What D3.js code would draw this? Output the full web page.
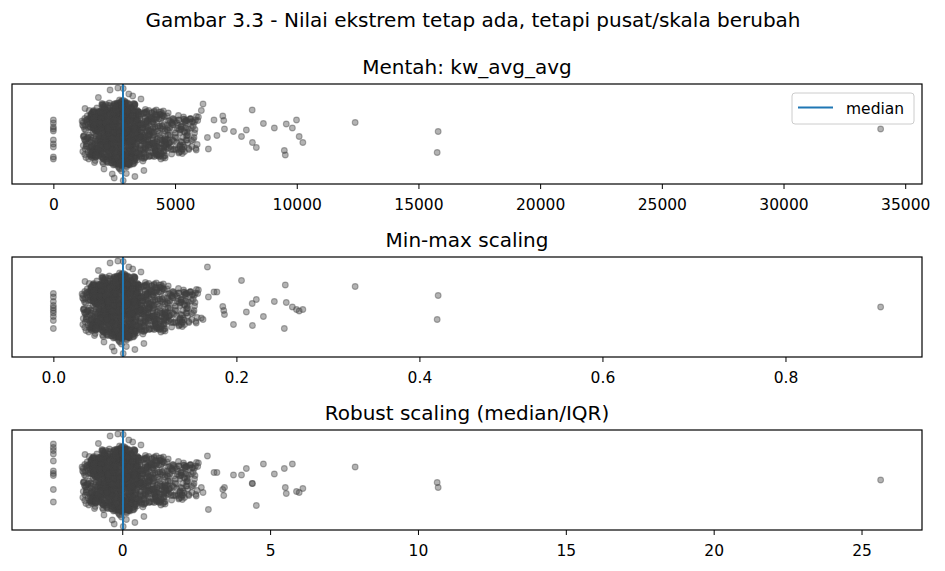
<!DOCTYPE html>
<html>
<head>
<meta charset="utf-8">
<script src="https://cdn.jsdelivr.net/npm/d3@7"></script>
<style>
  body { margin: 0; background: #fff; }
  text { font-family: "DejaVu Sans", sans-serif; fill: #000; }
</style>
</head>
<body>
<svg id="chart" width="945" height="571"></svg>
<script>
// kw_avg_avg, dense part of the distribution
const coreValues = [
  2410,3580,1320,2760,4020,2160,2990,5480,2530,3270,1760,2880,3420,2290,4310,2650,3110,1990,3760,4720,
  2870,1710,3290,2380,4780,2620,3940,2140,3060,1280,2740,3600,2260,5620,2510,3150,1960,4250,2950,3440,
  3120,2200,4060,1810,2570,5330,2790,3380,1350,2440,3710,2660,2010,4420,2920,2330,3550,1890,2840,4890,
  1230,3480,2700,2120,4180,2480,3010,1780,5750,2610,3220,2300,3840,2020,2800,4600,2400,3630,1920,2930,
  2560,4090,1470,3330,2220,2860,3680,2090,5140,2680,1850,3040,2360,4370,2770,3190,1640,3900,2450,2990,
  3390,2180,2720,4510,1540,2940,2350,3820,2600,1940,3160,5260,2430,2810,3500,2070,4140,2700,1720,3070,
  2640,1880,3250,2330,5880,2890,2140,3660,2460,4240,1410,3030,2580,3470,1990,2750,4860,2210,3930,2820,
  1960,3140,2520,4670,2780,2280,3720,1620,2900,3360,2050,5050,2690,2420,3980,1810,3080,2240,4380,2860,
  2730,4450,2170,3010,1380,3540,2630,2310,4110,2950,1830,3280,2490,5390,2080,3800,2770,2370,1690,3200,
  3300,2460,1590,2850,3960,2230,3170,2650,4800,1900,2960,2540,3620,2110,4290,2720,1480,3440,2390,5710,
  2300,3790,2910,1770,2620,4560,3060,2160,3330,2760,1250,3900,2440,2850,5170,2030,3500,2570,4030,3110,
  4190,2600,1930,3210,2830,2370,3650,1510,2990,2700,4920,2190,3390,2500,1870,3060,2790,4350,2260,3580,
  2520,1660,3420,2880,4700,2060,3050,2710,1840,3870,2330,5560,2940,2470,3240,1440,4120,2660,3130,2280,
  3000,2390,4260,1980,2770,3350,2150,5010,2580,3710,1700,2860,3180,2250,4490,2680,1330,3530,2910,2430,
  1800,2950,3610,2350,4080,2730,1580,3270,2470,5840,2900,2120,3440,2610,3970,2200,3080,1910,4630,2800,
  2690,3130,2040,4400,2810,1360,3490,2560,3000,2290,5290,1820,3760,2420,2980,4150,2130,3320,2630,1670,
  3560,2260,2870,1460,3120,4840,2500,2740,3880,2010,2920,3260,1740,4550,2380,3040,2590,5450,2190,2850,
  2140,3680,2590,3070,1600,2820,4270,2330,3410,5020,2700,1890,3190,2460,3950,2910,2080,4680,1300,2770,
  2860,1930,4010,2480,3300,2620,5600,1750,3060,2270,3730,2950,1520,4330,2560,3150,2170,2790,3560,4900,
  3430,2720,1840,2980,4620,2210,3240,2540,1290,3840,2810,2370,5200,2070,3010,2660,4180,1700,2930,3350,
  2350,3010,4380,2630,1560,2890,3540,2180,4960,2750,3180,1950,2480,3770,2840,5370,2310,1420,3290,2600,
  2980,2240,3150,1720,4200,2700,2430,3630,2000,2870,5680,2550,3380,1860,4470,2780,3040,2160,2650,3910,
  1640,3280,2580,4570,2900,2110,3480,2760,1390,3950,2470,3090,5100,2320,2820,4060,1980,3360,2690,2240,
  2780,4130,2200,3020,1880,3600,2450,5300,2640,3200,1500,2940,3850,2360,4720,2050,2860,3410,2540,1780,
  3180,2520,1910,4300,2760,3470,2290,2970,1620,4010,2680,5530,2150,3110,2420,3690,1760,2880,4530,2590,
  2430,3330,2850,1450,3920,2570,3120,2090,4760,2710,1830,3590,2960,2260,5150,2500,3030,4080,1990,2820,
  2690,1990,3520,2400,4410,2890,2130,3780,1530,3070,2610,4930,2340,3230,2800,1870,4240,2520,3000,5790,
  3560,2280,2740,4000,1690,3170,2550,2920,4690,2080,3400,1340,2810,3990,2380,5240,2660,3060,2190,3750,
  2170,3240,1790,2860,3640,2510,4460,2990,1960,3370,2720,5060,2420,3100,1480,4120,2600,2830,3830,2270,
  2920,1570,3450,2650,4230,2100,3010,2480,5500,1850,3280,2770,3920,2320,4810,2010,2900,3600,2560,1210,
  2040,2310,2580,2790,3010,3230,2150,2460,2880,3340,1560,1830,3480,3790,4100,4420,1610,1180,4750,5240,
  2120,2390,2670,2950,3180,2230,2520,2740,3090,3380,1650,1920,3530,3860,4260,4550,1890,1360,4920,5460,
  2070,2350,2620,2830,3060,3290,2190,2440,2960,3150,1720,1880,3450,3710,4030,4380,1530,1240,4680,5080,
  2260,2500,2710,2910,3120,3360,2010,2560,2820,3210,1590,1960,3560,3740,4180,4490,1750,1420,5010,5570,
  2180,2420,2650,2860,3040,3270,2090,2370,2990,3310,1770,1610,3420,3950,4150,4580,1980,1290,4810,5330,
  2280,2540,2760,2930,3160,3390,2060,2600,2800,3070,1540,1850,3640,3820,4220,4470,1670,1460,4720,5150,
  2030,2330,2690,2850,3130,3250,2210,2480,2940,3370,1690,1940,3510,3770,4080,4340,1820,1200,4990,5400,
  2140,2410,2640,2890,3100,3300,2250,2530,2780,3020,1620,1790,3440,3920,4290,4600,1560,1330,4860,5280,
  2200,2470,2730,2970,3190,3350,2100,2380,2840,3080,1740,1990,3600,3880,4120,4410,1930,1390,4640,5510,
  2050,2290,2570,2810,3050,3220,2160,2620,2900,3330,1570,1870,3490,3810,4200,4520,1700,1260,4780,5190,
  2240,2510,2700,2920,3140,3380,2020,2450,2870,3110,1660,1910,3550,3730,4050,4370,1580,1440,4950,5360,
  2110,2360,2610,2830,3070,3280,2270,2590,2950,3200,1700,1820,3470,3840,4160,4480,1850,1310,4700,5060,
  2300,2550,2750,2980,3170,3340,2080,2430,2790,3030,1580,1950,3580,3900,4230,4560,1640,1220,4830,5470,
  2170,2440,2680,2860,3090,3260,2230,2510,2920,3350,1730,1640,3520,3850,4110,4400,1960,1370,4910,5250,
  2060,2320,2600,2800,3020,3240,2190,2560,2880,3390,1600,1890,3460,3790,4270,4590,1720,1280,4740,5420,
  2210,2490,2720,2940,3150,3310,2040,2400,2850,3060,1680,1970,3570,3960,4140,4430,1540,1410,4870,5120,
  2130,2380,2630,2900,3110,3360,2250,2520,2770,3190,1550,1800,3430,3750,4190,4510,1880,1340,4690,5300,
  2290,2460,2740,2990,3200,3320,2090,2580,2820,3040,1710,1930,3610,3870,4240,4460,1690,1230,4960,5390,
  2080,2340,2660,2870,3080,3290,2220,2470,2960,3230,1630,1860,3500,3800,4090,4350,1790,1450,4800,5200,
  2190,2420,2590,2810,3130,3370,2000,2540,2910,3100,1760,1990,3540,3720,4210,4570,1600,1300,4730,5500,
  2020,2270,2530,2780,3000,3210,2120,2410,2690,3320,1530,1780,3410,3680,3990,4340,1590,1940,5160,5690,
  2100,2350,2600,2850,3080,3300,2240,2480,2920,3140,1610,1860,3480,3770,4070,4470,1750,1520,5290,5820,
  2170,2440,2700,2940,3160,3390,2050,2550,2800,3050,1680,1940,3560,3840,4140,4550,1880,1660,5420,5930,
  2230,2500,2760,2990,3220,3270,2140,2390,2870,3120,1560,1810,3620,3910,4240,4620,1570,1990,5210,5640,
  2060,2320,2570,2820,3030,3250,2200,2470,2740,3360,1640,1900,3450,3730,4020,4390,1830,1610,5350,5780,
  2150,2400,2650,2880,3110,3340,2010,2580,2830,3190,1720,1980,3530,3800,4110,4500,1690,1920,5480,5870,
  2280,2530,2790,3000,3230,3380,2090,2360,2960,3070,1520,1840,3590,3880,4190,4570,1540,1780,5130,5560,
  2090,2360,2620,2860,3060,3290,2260,2510,2770,3170,1600,1870,3400,3700,4000,4360,1960,1640,5250,5720,
  2190,2450,2710,2930,3150,3330,2030,2490,2840,3000,1700,1950,3660,3940,4250,4600,1720,1870,5380,5910,
  2250,2520,2770,2970,3200,3390,2130,2430,2900,3090,1580,1820,3500,3760,4060,4430,1610,1970,5520,5800,
  2040,2300,2550,2800,3040,3260,2180,2460,2720,3310,1660,1930,3440,3830,4130,4480,1800,1530,5190,5620,
  2120,2390,2640,2870,3100,3350,2270,2540,2810,3160,1740,1890,3570,3870,4220,4540,1930,1700,5310,5750,
  2210,2470,2680,2910,3140,3280,2070,2420,2990,3220,1540,1770,3630,3900,4150,4410,1580,1850,5440,5850,
  2160,2430,2690,2950,3170,3370,2240,2500,2760,3020,1620,1960,3470,3780,4100,4520,1760,1620,5230,5670,
  2080,2340,2580,2840,3090,3300,2110,2570,2880,3130,1690,1850,3520,3810,4180,4610,1670,1910,5360,5960,
  2330,3350,3100,2500,1850,3720,2420,3260,2080,3600
];

// vertical strip offsets of the dense part (-1 = bottom of box, 1 = top)
const coreJitter = [
  .05,-.31,.17,-.09,.42,-.22,.02,.27,-.55,.13,-.04,.33,-.17,.09,-.41,.21,-.13,.58,-.26,-.02,
  -.18,.07,.36,-.44,.12,-.03,.23,-.29,.49,-.11,.16,-.06,-.35,.30,.01,-.62,.19,-.15,.26,.08,
  .28,-.12,.04,-.37,.19,-.07,.51,.10,-.24,.45,-.02,-.16,.32,-.50,.08,.14,-.28,.03,-.46,.22,
  -.05,.39,-.20,.11,-.33,.25,-.54,.06,.15,-.10,.52,-.27,.02,.18,.48,-.43,.09,-.14,.34,-.01,
  .20,-.08,.47,-.30,.03,-.58,.13,-.19,.37,.07,-.11,.24,-.40,.16,.01,-.23,.44,-.04,.29,-.15,
  -.26,.14,.06,-.47,.31,.56,-.13,.22,-.02,.41,-.35,.10,-.07,-.61,.18,-.21,.04,.27,-.53,.12,
  .09,-.36,.25,-.01,.35,.50,-.17,.12,-.45,.33,-.06,.19,-.28,.44,-.12,.03,-.40,.15,-.22,.05,
  -.14,.27,-.04,.36,-.25,.11,-.49,.20,.48,-.09,.16,-.32,.01,.43,-.19,.08,-.53,.23,-.03,.30,
  .35,-.20,.10,-.52,.24,-.06,.50,.15,-.38,.02,.28,-.12,.19,-.35,.07,-.30,.56,-.16,.40,-.08,
  -.09,.18,-.42,-.48,.31,.04,-.24,.57,-.02,.13,.62,-.33,.21,-.15,.06,.38,-.41,.11,-.27,.25,
  .16,-.28,-.43,.07,-.13,.34,.03,-.46,.22,.62,-.05,.29,-.19,.10,-.36,.45,-.01,.20,-.37,.12,
  -.33,.06,.23,-.15,.52,.40,-.08,.14,-.64,-.26,.19,-.03,.30,-.41,.09,.52,-.18,.01,.27,-.11,
  .11,-.40,.02,.44,-.21,.35,-.12,-.57,.17,-.05,.46,-.29,.08,.25,-.44,.13,-.02,.32,-.17,.41,
  -.79,.21,-.10,.43,.09,-.30,.15,-.06,.35,-.18,.26,.60,-.39,.04,-.12,.33,.08,-.43,.18,-.24,
  .24,.65,-.07,.38,-.19,-.70,.12,-.34,.03,.28,-.13,.20,-.52,.07,.29,-.01,-.46,.16,-.26,.42,
  -.02,.31,-.48,.12,.66,-.11,.22,-.37,-.51,.05,-.16,.40,-.06,.19,.49,-.28,.34,.10,-.59,.14,
  .43,-.17,-.93,.26,.01,-.31,.08,.58,-.12,.35,.57,-.22,.16,-.44,.05,.20,-.07,.27,-.50,.13,
  .07,-.54,.19,-.09,.32,.53,-.25,.11,-.38,.02,-.68,.45,-.14,.23,-.03,.17,-.29,.09,.51,-.20,
  -.41,.13,-.27,.40,.06,-.15,.24,-.46,.39,-.08,.18,.02,-.34,.30,-.60,.11,-.21,.44,.04,-.12,
  .30,-.45,.09,.16,-.22,.47,-.05,.34,-.41,.14,.50,-.18,.03,.26,-.66,.07,-.30,.21,.60,-.10,
  -.23,.37,-.12,.04,.34,-.47,.19,-.03,.28,.40,-.40,.11,-.17,.44,.58,-.26,.08,-.36,.15,.01,
  .17,-.06,.29,-.35,.10,-.32,.47,.02,-.20,.91,-.13,.24,-.48,.06,-.29,.65,.13,-.09,.39,-.16,
  -.42,.08,.22,-.14,.43,-.31,.05,-.47,.36,-.01,.18,-.24,.11,.57,.64,-.19,.27,-.06,-.62,.14,
  .55,-.25,.12,-.49,.31,-.04,.20,-.39,.07,.53,-.15,-.60,.25,-.08,.42,-.30,.58,.01,-.52,.18,
  -.07,.46,-.32,.15,-.40,.27,-.11,.42,.03,-.21,.38,-.02,.12,-.60,.21,-.14,.33,.67,-.36,.09,
  .21,-.13,.45,-.50,.08,-.27,.40,.01,-.18,-.53,.30,-.05,.63,.14,-.38,.46,-.09,.24,-.22,-.40,
  -.58,.32,-.04,.19,-.43,.10,-.23,.49,.14,-.10,.61,-.31,.06,.28,-.74,.37,-.16,-.49,.02,.23,
  .12,-.22,-.55,.35,-.57,.04,.52,-.36,.18,-.07,.25,-.47,.41,.09,-.28,.15,-.65,.40,-.12,.31,
  -.30,.16,.52,-.59,.03,.57,-.19,.26,-.45,.11,.68,-.08,-.53,.36,-.02,.21,-.34,.53,.06,-.14,
  .19,-.44,.07,.92,-.27,.34,-.60,.13,-.03,.45,-.17,.40,.01,-.41,.24,-.09,.59,-.23,.30,-.35,
  .58,-.44,.21,-.60,.37,-.15,.49,-.29,.06,-.53,.40,-.22,.31,-.46,.12,-.35,.44,.26,-.18,.09,
  -.51,.33,-.08,.55,-.26,.44,-.61,.15,-.38,.24,-.31,.45,-.14,.27,-.42,.19,-.05,-.24,.30,-.12,
  .12,-.57,.47,-.19,.62,-.35,.28,-.48,.53,-.02,.21,-.40,.47,-.09,.33,-.27,-.45,.15,-.29,.22,
  -.33,.60,-.45,.09,-.56,.18,.41,-.12,-.62,.50,-.47,.14,-.30,.42,-.18,.37,.03,-.08,.25,-.31,
  .46,-.23,.57,-.41,.01,-.59,.35,.22,-.47,.14,.28,-.36,.09,-.44,.46,-.11,.24,.31,-.05,-.22,
  -.17,.52,-.37,.61,-.50,.29,-.06,-.55,.40,-.28,-.12,.38,-.48,.20,-.25,.41,-.37,-.27,.13,.28,
  .55,-.13,-.58,.34,-.30,.48,-.42,.03,.60,-.21,.44,-.06,.36,-.33,.10,-.44,.29,.18,-.30,.04,
  -.46,.26,.39,-.52,.16,-.04,.57,-.36,-.24,.45,-.38,.23,-.19,.47,-.41,.06,.34,-.15,.22,-.26,
  .31,-.62,.08,.50,-.43,.59,-.18,.27,-.54,.38,.16,-.46,.40,-.02,.30,-.28,-.16,.29,-.20,.11,
  -.59,.42,-.27,-.07,.53,-.40,.19,.62,-.32,-.49,-.24,.35,-.42,.13,-.36,.46,.08,-.03,.27,-.24,
  .24,-.48,.61,-.34,.11,.45,-.56,-.16,.36,-.61,.47,-.15,.22,-.39,.43,-.07,-.31,.20,-.14,.30,
  -.40,.15,-.53,.58,-.11,.32,-.25,.47,-.60,.05,-.44,.30,-.08,.45,-.21,.17,.38,-.30,.07,-.17,
  .62,-.31,.04,-.46,.43,-.57,.23,-.09,.51,-.37,.33,-.41,.18,-.27,.48,-.34,.12,.23,-.25,-.04,
  -.22,.56,-.41,.17,-.61,.09,.38,-.50,.27,.59,-.10,.42,-.45,.26,-.03,.39,-.36,-.20,.31,.14,
  .39,-.05,.50,-.62,.28,-.20,-.45,.54,-.14,.33,.25,-.29,.46,-.13,.37,-.48,.20,.10,-.28,.26,
  -.54,.45,-.16,.30,-.39,.61,-.02,-.29,.48,-.58,-.35,.11,-.40,.34,-.17,.44,-.06,-.09,.19,-.30,
  .18,-.52,.58,-.24,.05,-.44,.35,.60,-.33,.41,.38,-.23,.04,-.47,.29,-.14,.43,.27,-.11,.16,
  -.28,.36,-.60,.46,-.49,.13,.55,-.19,-.40,.26,-.46,.20,-.33,.15,-.43,.32,-.21,-.23,.08,.24,
  .52,-.38,.25,-.12,.60,-.55,-.30,.40,.07,-.47,.12,-.37,.44,-.20,.24,-.45,.35,.30,-.16,-.27,
  -.06,.48,-.36,.57,-.23,.37,.61,-.58,.20,-.15,-.28,.46,-.11,.41,-.39,.06,-.42,-.12,.26,.03,
  -.35,.52,-.12,.29,-.58,.08,.44,-.26,.60,-.47,.37,-.18,.42,-.31,.05,-.40,.22,-.14,.28,-.25,
  .41,-.06,.56,-.42,.19,-.53,.02,.35,-.29,.59,-.27,.40,-.08,.33,-.44,.15,-.36,.20,-.30,.09,
  -.15,.47,-.60,.10,.38,-.24,-.50,.55,-.03,.26,.11,-.42,.30,-.16,.44,-.26,.03,-.33,.12,.27,
  .53,-.39,.20,-.57,.03,.46,-.18,-.44,.32,-.09,-.38,.24,-.45,.08,.34,-.12,.41,.06,-.22,.31,
  -.49,.14,.38,-.27,.60,-.11,.28,-.55,.07,.43,.45,-.10,.17,-.37,.26,.39,-.29,-.19,.34,-.07,
  .22,-.58,.05,.49,-.33,.57,-.21,.13,-.46,-.01,-.21,.32,-.40,.43,-.05,-.33,.18,.25,-.12,-.32,
  -.02,.34,-.45,.58,-.14,-.38,.51,-.30,.17,-.56,.29,-.44,.06,-.23,.40,-.09,-.41,-.28,.17,.10,
  .36,-.52,.27,-.08,.45,-.60,.09,.40,-.36,.21,-.13,.36,-.30,.19,-.43,.44,.01,.14,-.35,.24,
  -.56,.03,-.30,.42,-.47,.16,.59,-.19,.33,-.41,.40,-.27,.12,-.45,.22,-.17,.35,-.09,.29,-.21,
  .12,.57,-.37,-.16,.31,-.49,.24,-.58,.48,-.06,-.34,.07,.44,-.20,.31,-.39,.25,.33,-.18,.02,
  -.40,.25,.50,-.54,.06,.36,-.27,.18,-.12,.55,.18,-.35,.27,.41,-.24,.10,-.14,-.26,.08,.30,
  .48,-.20,-.06,.39,-.59,.11,-.43,.30,.58,-.32,-.42,.22,-.04,-.32,.38,-.22,.43,.19,-.31,-.11,
  -.25,.44,-.52,.01,.27,-.35,.54,-.09,-.48,.37,.34,-.41,.20,-.11,-.45,.30,-.25,-.02,.23,-.29,
  .59,-.31,.15,-.43,.52,.04,-.57,.26,-.20,.45,-.08,.43,-.37,.26,-.18,.36,-.44,.28,-.15,.12,
  -.10,.40,-.34,.53,-.24,.60,-.04,-.47,.35,-.15,.23,-.30,.39,-.43,.14,-.06,.32,-.23,.05,.34,
  .88,-.85,.80,-.88,.73,-.73,-.80,.76,-.70,.70
];

// articles with kw_avg_avg = 0
const zeroValues = [0, 0, 0, 0, 0, 0, 0, 0, 0, 0];
const zeroJitterRaw = [.28, .22, .14, .10, .06, -.12, -.20, -.26, -.46, -.50];
const zeroJitterMinMax = [.27, .20, .11, .03, -.02, -.07, -.12, -.19, -.27, -.43];
const zeroJitterRobust = [.72, .65, .59, .52, .38, .18, .13, .09, -.19, -.44];

// long right tail
const tailValues = [6080, 6150, 6330, 6370, 6600, 6720, 6960, 7000, 7030, 7400, 7730, 7930, 8170, 8180,
  8340, 8630, 9080, 9490, 9530, 9570, 9820, 9990, 10100, 10250, 12400, 15770, 15810, 33990];
const tailJitterRaw = [.47, .60, -.07, -.30, .28, -.03, .36, .27, .10, .05, -.05, .08, .48, -.17,
  -.27, .21, .12, -.33, -.42, .20, .12, .28, -.05, -.17, .23, -.37, .05, .10];
const tailJitterMinMax = [-.22, -.25, .80, .20, .30, .30, .01, -.07, -.15, -.35, .53, -.10, .07, -.37,
  .15, -.19, .11, -.43, .44, .09, .00, -.05, -.08, -.05, .41, -.25, .23, .00];
const tailJitterRobust = [-.15, -.25, .48, -.59, .15, .15, -.19, -.31, -.15, .10, .10, .23, -.07, -.07,
  -.51, .32, .12, .23, -.15, -.27, .32, -.23, -.25, -.17, .26, -.05, -.15, .00];

// scaler parameters (fitted elsewhere)
const minMaxFit = [0, 37600];
const robustFit = [2830, 1215];

const rawTicks = [0, 5000, 10000, 15000, 20000, 25000, 30000, 35000];
const minMaxTicks = [0, 0.2, 0.4, 0.6, 0.8];
const robustTicks = [0, 5, 10, 15, 20, 25];

const figTitle = 'Gambar 3.3 - Nilai ekstrem tetap ada, tetapi pusat/skala berubah';

const left = 12, right = 922, boxH = 100;
const pointColor = '#404040', medianColor = '#1f77b4';

const panels = [
    { title: 'Mentah: kw_avg_avg', top: 84, fn: v => v, ticks: rawTicks, fmt: d3.format('d'),
      zeroJitter: zeroJitterRaw, tailJitter: tailJitterRaw, legend: true },
    { title: 'Min-max scaling', top: 257, fn: v => (v - minMaxFit[0]) / (minMaxFit[1] - minMaxFit[0]),
      ticks: minMaxTicks, fmt: d3.format('.1f'), zeroJitter: zeroJitterMinMax, tailJitter: tailJitterMinMax },
    { title: 'Robust scaling (median/IQR)', top: 430, fn: v => (v - robustFit[0]) / robustFit[1],
      ticks: robustTicks, fmt: d3.format('d'), zeroJitter: zeroJitterRobust, tailJitter: tailJitterRobust }
];

const svg = d3.select('#chart');

svg.append('text')
    .attr('x', 473)
    .attr('y', 27)
    .attr('text-anchor', 'middle')
    .style('font-size', '20px')
    .text(figTitle);

function drawPanel(p) {
    let values = coreValues.concat(zeroValues, tailValues);
    let jitter = coreJitter.concat(p.zeroJitter, p.tailJitter);
    let pts = values.map((v, i) => ({ x: p.fn(v), y: jitter[i] || 0 }));

    let ext = d3.extent(pts, d => d.x);
    let pad = (ext[1] - ext[0]) * 0.05;
    let xScale = d3.scaleLinear().domain([ext[0] - pad, ext[1] + pad]).range([left, right]);
    let yScale = d3.scaleLinear().domain([-1, 1]).range([p.top + boxH, p.top]);

    let g = svg.append('g').attr('class', 'panel');

    g.append('g')
        .selectAll('circle')
        .data(pts)
        .join('circle')
        .attr('cx', d => xScale(d.x))
        .attr('cy', d => yScale(d.y))
        .attr('r', 2.9)
        .style('fill', pointColor)
        .style('fill-opacity', 0.4)
        .style('stroke', pointColor)
        .style('stroke-opacity', 0.4)
        .style('stroke-width', 1.1);

    let med = d3.median(pts, d => d.x);
    g.append('line')
        .attr('x1', xScale(med))
        .attr('x2', xScale(med))
        .attr('y1', p.top)
        .attr('y2', p.top + boxH)
        .style('stroke', medianColor)
        .style('stroke-width', 2);

    g.append('rect')
        .attr('x', left)
        .attr('y', p.top)
        .attr('width', right - left)
        .attr('height', boxH)
        .style('fill', 'none')
        .style('stroke', '#000')
        .style('stroke-width', 1.2);

    let axis = g.append('g')
        .attr('transform', `translate(0, ${p.top + boxH})`)
        .call(d3.axisBottom(xScale).tickValues(p.ticks).tickFormat(p.fmt).tickSize(5).tickPadding(10));
    axis.select('.domain').remove();
    axis.attr('font-family', null).attr('font-size', null);
    axis.selectAll('.tick line').style('stroke', '#000').style('stroke-width', 1);
    axis.selectAll('.tick text').style('font-size', '15.5px');

    g.append('text')
        .attr('x', (left + right) / 2)
        .attr('y', p.top - 10)
        .attr('text-anchor', 'middle')
        .style('font-size', '20px')
        .text(p.title);

    if (p.legend) {
        let lg = g.append('g').attr('class', 'legend');
        lg.append('rect')
            .attr('x', 792)
            .attr('y', p.top + 9)
            .attr('width', 122)
            .attr('height', 31)
            .attr('rx', 3)
            .style('fill', '#fff')
            .style('fill-opacity', 0.8)
            .style('stroke', '#cccccc')
            .style('stroke-width', 1);
        lg.append('line')
            .attr('x1', 798)
            .attr('x2', 833)
            .attr('y1', p.top + 23.5)
            .attr('y2', p.top + 23.5)
            .style('stroke', medianColor)
            .style('stroke-width', 2);
        lg.append('text')
            .attr('x', 846)
            .attr('y', p.top + 30)
            .style('font-size', '15.5px')
            .text('median');
    }
}

panels.forEach(drawPanel);
</script>
</body>
</html>
